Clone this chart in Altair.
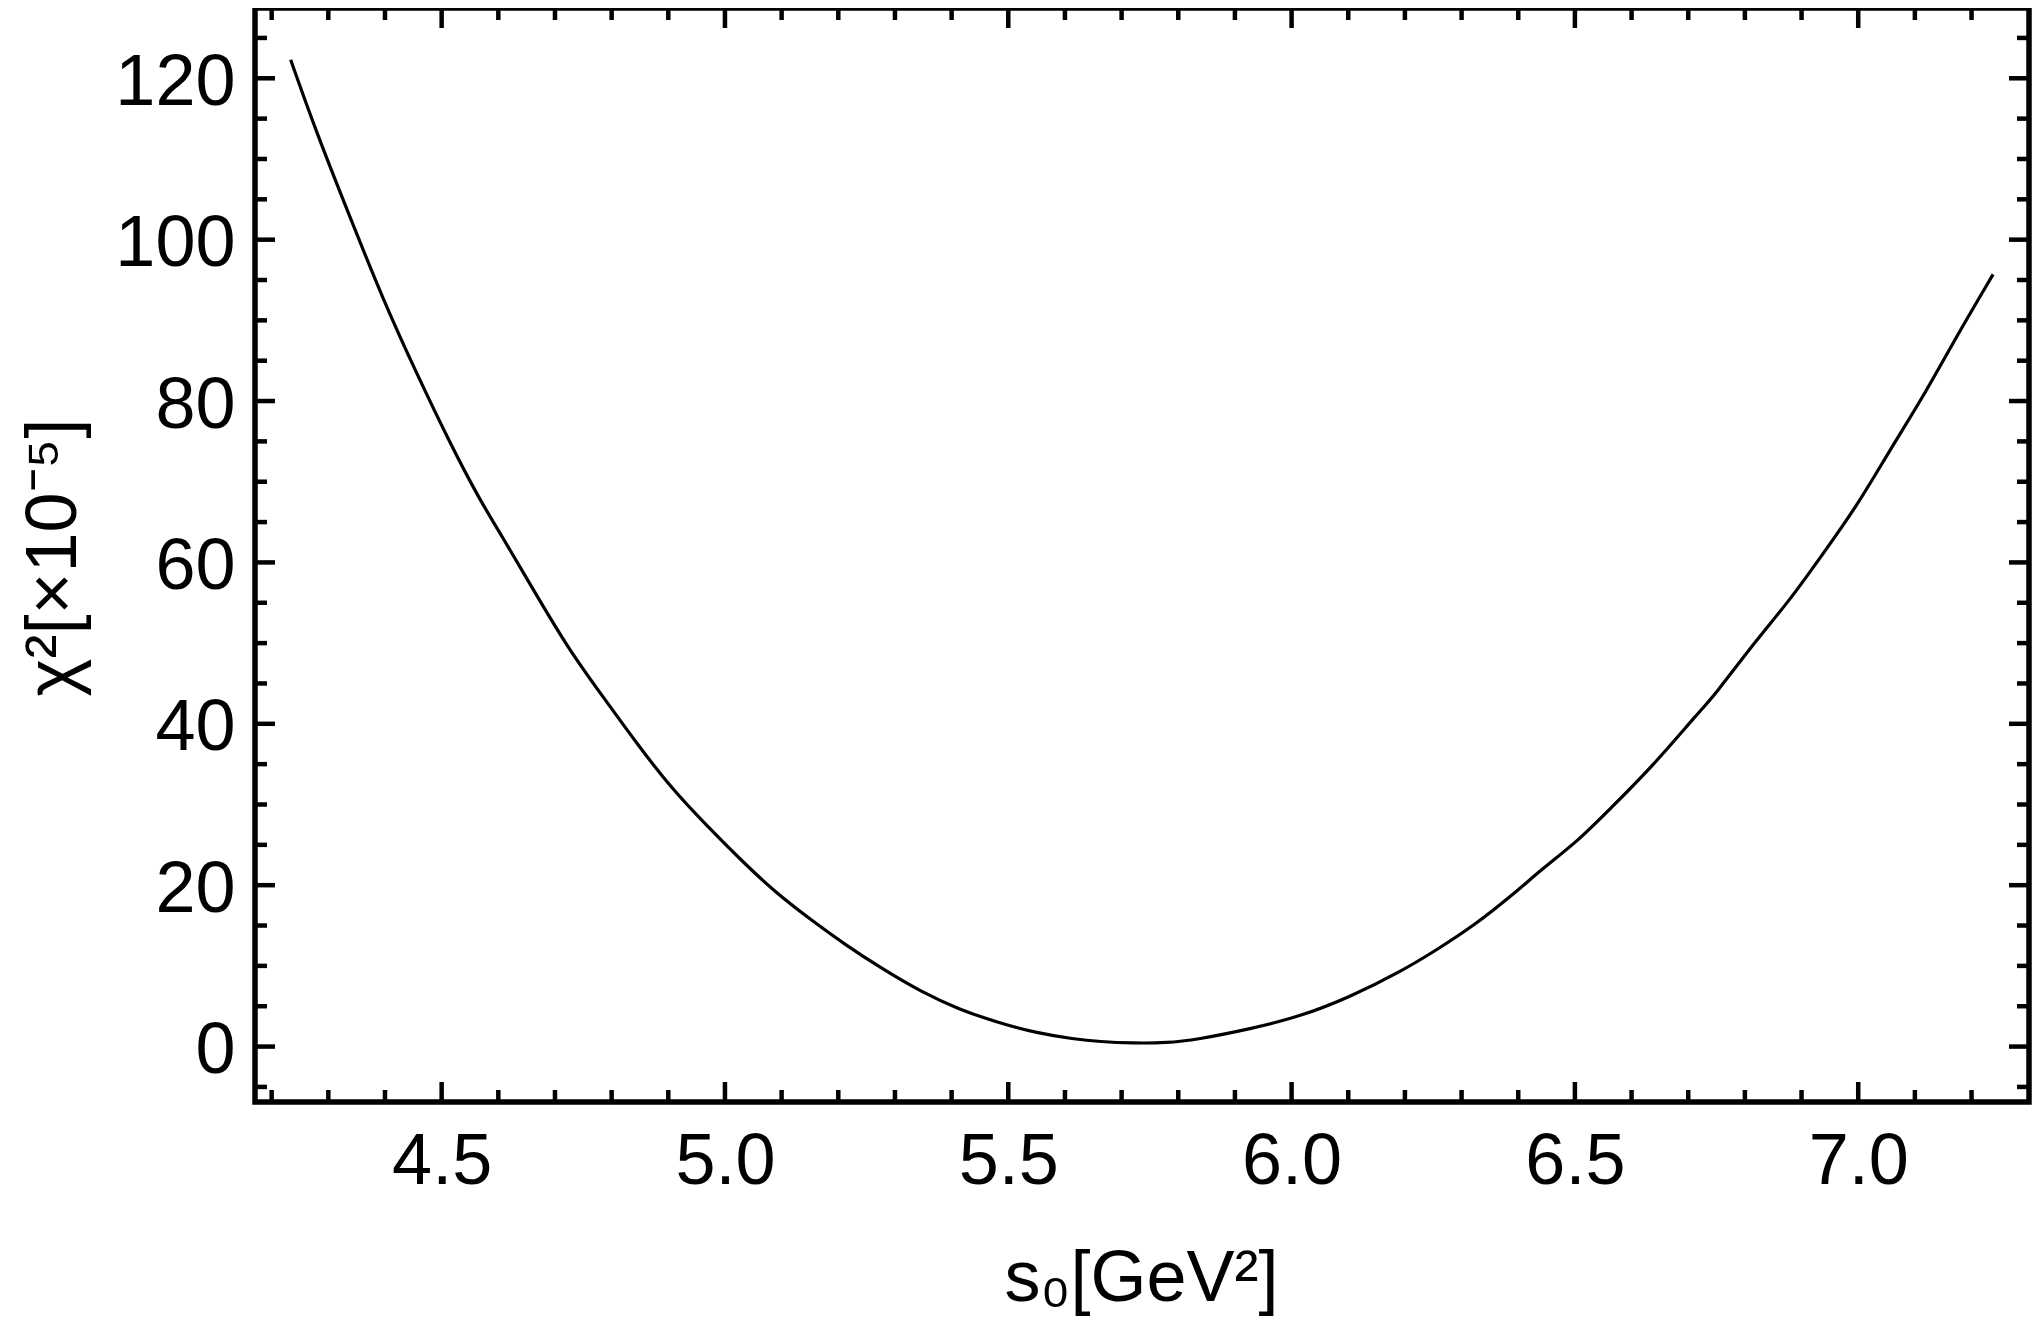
import altair as alt
import pandas as pd

# ---- data ----
s0 = [4.2335, 4.2794, 4.3382, 4.3970, 4.4559, 4.5146, 4.5676, 4.6028, 4.6636,
      4.7245, 4.7852, 4.8460, 4.9068, 4.9676, 5.0283, 5.0890, 5.1500, 5.2106,
      5.2782, 5.3458, 5.4132, 5.4808, 5.5483, 5.6158, 5.6617, 5.7200, 5.7800,
      5.8305, 5.9318, 6.0128, 6.1006, 6.1951, 6.2560, 6.3234, 6.3910, 6.4450,
      6.5058, 6.5598, 6.6341, 6.7205, 6.7439, 6.8204, 6.8792, 6.9380, 6.9969,
      7.0556, 7.1145, 7.1734, 7.2380]
chi2 = [122.3, 113.2, 102.8, 92.5, 83.4, 74.8, 67.7, 63.7, 56.4,
        49.2, 43.3, 37.4, 31.9, 27.4, 23.1, 19.1, 15.8, 12.7,
        9.6, 6.8, 4.6, 3.0, 1.7, 0.93, 0.60, 0.42, 0.45,
        0.83, 2.26, 3.68, 6.05, 9.38, 11.98, 15.06, 18.86, 22.18,
        25.5, 29.3, 34.5, 41.6, 43.3, 50.4, 55.3, 61.1, 66.9,
        73.9, 80.5, 88.0, 95.7]

x_major = [4.5, 5.0, 5.5, 6.0, 6.5, 7.0]
x_minor = [4.2, 4.3, 4.4, 4.6, 4.7, 4.8, 4.9, 5.1, 5.2, 5.3, 5.4, 5.6, 5.7,
           5.8, 5.9, 6.1, 6.2, 6.3, 6.4, 6.6, 6.7, 6.8, 6.9, 7.1, 7.2]
y_major = [0, 20, 40, 60, 80, 100, 120]
y_minor = [-5, 5, 10, 15, 25, 30, 35, 45, 50, 55, 65, 70, 75, 85, 90, 95,
           105, 110, 115, 125]

x_title = "s₀[GeV²]"
y_title = "χ²[×10⁻⁵]"

# ---- layout / style ----
W, H = 1774, 1094
XDOM = [4.1706, 7.3014]
YDOM = [-6.87, 128.71]
FONT = "Liberation Sans"
MAJ, MIN = 20, 12
TW = 4.5

xs = alt.Scale(domain=XDOM, nice=False, zero=False)
ys = alt.Scale(domain=YDOM, nice=False, zero=False)

curve_df = pd.DataFrame({"s0": s0, "chi2": chi2})

line = alt.Chart(curve_df).mark_line(
    color="black", strokeWidth=3.2, interpolate="basis"
).encode(
    x=alt.X("s0:Q", scale=xs,
            axis=alt.Axis(values=x_major, format=".1f", title=x_title,
                          labelBaseline="alphabetic", labelPadding=81,
                          titleBaseline="alphabetic", titleX=W / 2 - 1, titleY=198,
                          titleAlign="center")),
    y=alt.Y("chi2:Q", scale=ys,
            axis=alt.Axis(values=y_major, format="d", title=y_title,
                          labelPadding=20, labelOffset=4,
                          titleAngle=270, titleBaseline="alphabetic",
                          titleAlign="center", titleX=-180, titleY=549)),
)


def xticks(vals, length, side):
    df = pd.DataFrame({"t": vals})
    if side == "bottom":
        yv, y2v = alt.value(H), alt.value(H - length)
    else:
        yv, y2v = alt.value(0), alt.value(length)
    return alt.Chart(df).mark_rule(color="black", strokeWidth=TW).encode(
        x=alt.X("t:Q", scale=xs), y=yv, y2=y2v)


def yticks(vals, length, side):
    df = pd.DataFrame({"t": vals})
    if side == "left":
        xv, x2v = alt.value(0), alt.value(length)
    else:
        xv, x2v = alt.value(W), alt.value(W - length)
    return alt.Chart(df).mark_rule(color="black", strokeWidth=TW).encode(
        y=alt.Y("t:Q", scale=ys), x=xv, x2=x2v)


layers = [line]
for side in ("bottom", "top"):
    layers.append(xticks(x_major, MAJ, side))
    layers.append(xticks(x_minor, MIN, side))
for side in ("left", "right"):
    layers.append(yticks(y_major, MAJ, side))
    layers.append(yticks(y_minor, MIN, side))

chart = alt.layer(*layers).properties(
    width=W, height=H,
    autosize=alt.AutoSizeParams(type="none"),
    padding={"left": 247, "top": 0, "right": 4, "bottom": 216},
).configure_view(
    stroke="black", strokeWidth=5.5
).configure_axis(
    grid=False, domain=False, ticks=False, tickSize=0,
    labelFont=FONT, titleFont=FONT, labelFontSize=72, titleFontSize=72,
    labelColor="black", titleColor="black", titleFontWeight="normal",
)

chart.save("out.html", embed_options={"renderer": "svg", "actions": False})
